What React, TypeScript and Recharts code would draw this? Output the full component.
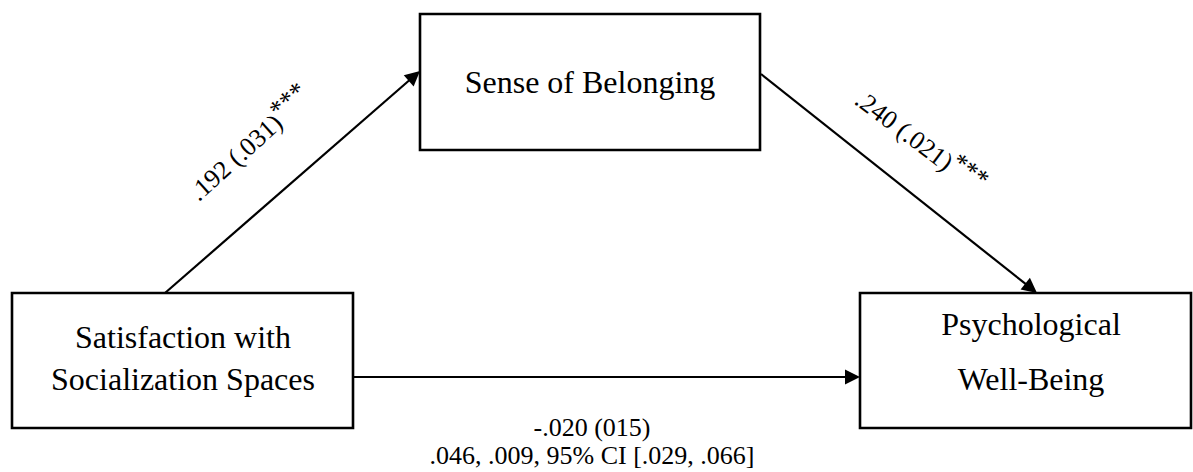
import React from 'react';
import { ScatterChart, Scatter, XAxis, YAxis, ReferenceArea, ReferenceLine } from 'recharts';

// Node labels (X, M, Y)
const nodeNames: string[][] = [
  ['Satisfaction with', 'Socialization Spaces'],
  ['Sense of Belonging'],
  ['Psychological', 'Well-Being'],
];
// Path coefficients (SE) and significance
const pathCoefs: string[] = ['.192 (.031)', '.240 (.021)'];
const pathSig: string[] = ['***', '***'];
const directEffect = '-.020 (015)';
const indirectEffect = '.046, .009, 95% CI [.029, .066]';

// Diagram layout in data units (x: 0..1193, y: 0..472 top-down)
const boxLayout = [
  { x1: 12, x2: 353, y1: 293, y2: 428 },
  { x1: 420, x2: 760, y1: 14, y2: 150 },
  { x1: 860, x2: 1191, y1: 293, y2: 428 },
];
const arrowLayout = [
  { x1: 165, y1: 293, x2: 420, y2: 71 },
  { x1: 761, y1: 74, x2: 1037, y2: 293 },
  { x1: 353, y1: 377, x2: 860, y2: 377 },
];
const nodeTextLayout = [
  { x: 183, y: 348, gap: 42 },
  { x: 590, y: 93, gap: 0 },
  { x: 1031, y: 335, gap: 55 },
];
const coefLayout = [
  { x: 250, y: 144, angle: -42 },
  { x: 920, y: 142, angle: 37 },
];
const effectLayout = [
  { x: 592, y: 436 },
  { x: 592, y: 464 },
];

const FONT = "'Liberation Serif', 'Times New Roman', 'DejaVu Serif', serif";

const nodeData = nodeNames.map((lines, i) => ({ ...nodeTextLayout[i], lines }));
const coefData = pathCoefs.map((t, i) => ({ ...coefLayout[i], text: t, sig: pathSig[i] }));
const effectData = [directEffect, indirectEffect].map((t, i) => ({ ...effectLayout[i], text: t }));

const ArrowShape = (props: any) => {
  const { x1, y1, x2, y2 } = props;
  const dx = x2 - x1;
  const dy = y2 - y1;
  const len = Math.sqrt(dx * dx + dy * dy);
  const ux = dx / len;
  const uy = dy / len;
  const L = 15;
  const W = 7.5;
  const bx = x2 - ux * L;
  const by = y2 - uy * L;
  const pts = `${x2},${y2} ${bx - uy * W},${by + ux * W} ${bx + uy * W},${by - ux * W}`;
  return (
    <g>
      <line x1={x1} y1={y1} x2={bx + ux * 2} y2={by + uy * 2} stroke="#000" strokeWidth={2.2} />
      <polygon points={pts} fill="#000" />
    </g>
  );
};

const NodeText = (props: any) => {
  const { cx, cy, payload } = props;
  const lines: string[] = payload.lines;
  return (
    <text x={cx} y={cy} textAnchor="middle" style={{ fontFamily: FONT, fontSize: 32 }} fill="#000">
      {lines.map((l, i) => (
        <tspan key={i} x={cx} dy={i === 0 ? 0 : payload.gap}>{l}</tspan>
      ))}
    </text>
  );
};

const CoefText = (props: any) => {
  const { cx, cy, payload } = props;
  return (
    <text
      x={cx}
      y={cy}
      textAnchor="middle"
      dominantBaseline="central"
      style={{ fontFamily: FONT, fontSize: 26 }}
      fill="#000"
      transform={`rotate(${payload.angle}, ${cx}, ${cy})`}
    >
      <tspan>{payload.text}</tspan>
      <tspan dy={-8}>{payload.sig}</tspan>
    </text>
  );
};

const PlainText = (props: any) => {
  const { cx, cy, payload } = props;
  return (
    <text x={cx} y={cy} textAnchor="middle" style={{ fontFamily: FONT, fontSize: 26 }} fill="#000">
      {payload.text}
    </text>
  );
};

export default function App() {
  return (
    <div style={{ position: 'absolute', left: 0, top: 0, background: '#fff' }}>
      <ScatterChart width={1193} height={472} margin={{ top: 0, right: 0, bottom: 0, left: 0 }}>
        <XAxis type="number" dataKey="x" domain={[0, 1193]} hide />
        <YAxis type="number" dataKey="y" domain={[0, 472]} reversed hide />
        {boxLayout.map((b, i) => (
          <ReferenceArea
            key={`b${i}`}
            x1={b.x1}
            x2={b.x2}
            y1={b.y1}
            y2={b.y2}
            fill="#fff"
            fillOpacity={1}
            stroke="#000"
            strokeWidth={2.6}
            ifOverflow="visible"
          />
        ))}
        {arrowLayout.map((a, i) => (
          <ReferenceLine
            key={`a${i}`}
            segment={[{ x: a.x1, y: a.y1 }, { x: a.x2, y: a.y2 }]}
            shape={ArrowShape}
            ifOverflow="visible"
          />
        ))}
        <Scatter data={nodeData} shape={NodeText} isAnimationActive={false} />
        <Scatter data={coefData} shape={CoefText} isAnimationActive={false} />
        <Scatter data={effectData} shape={PlainText} isAnimationActive={false} />
      </ScatterChart>
    </div>
  );
}
